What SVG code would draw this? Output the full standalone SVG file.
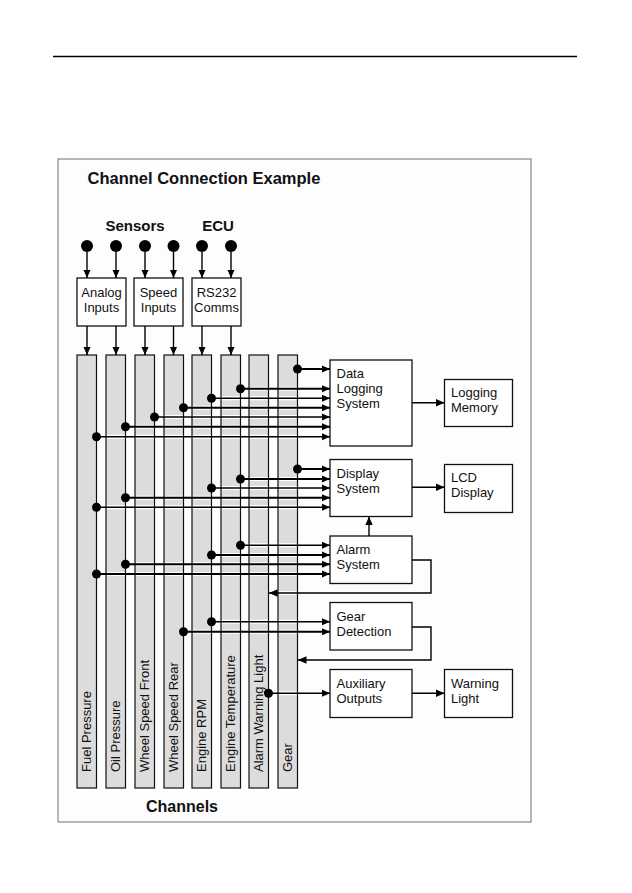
<svg xmlns="http://www.w3.org/2000/svg" width="632" height="893" viewBox="0 0 632 893">
<defs>
<marker id="ah" markerUnits="userSpaceOnUse" markerWidth="9" markerHeight="8" refX="8.5" refY="4" orient="auto">
<path d="M0,0.3 L8.5,4 L0,7.7 z" fill="#000"/>
</marker>
<style>
text{font-family:"Liberation Sans",Arial,sans-serif;fill:#111}
.t{font-size:13px}
.b{font-weight:bold}
.box{fill:#fff;stroke:#111;stroke-width:1.3}
.chf{fill:#dcdcdc;stroke:none}
.chs{fill:none;stroke:#111;stroke-width:1.2}
.halo{stroke:#fff;stroke-width:4;fill:none}
.ln{stroke:#000;stroke-width:1.4;fill:none}
.th{stroke-width:2}
.ar{marker-end:url(#ah)}
.dot{fill:#000}
</style>
</defs>
<rect width="632" height="893" fill="#fff"/>
<line x1="53" y1="56.5" x2="577" y2="56.5" stroke="#000" stroke-width="1.3"/>
<rect x="58" y="159" width="473" height="663" fill="#fdfdfd" stroke="#888" stroke-width="1.2"/>

<g id="labels">
<text class="b" x="87.5" y="184" style="font-size:16.5px">Channel Connection Example</text>
<text class="b" x="135" y="231" text-anchor="middle" style="font-size:15px">Sensors</text>
<text class="b" x="218" y="231" text-anchor="middle" style="font-size:15px">ECU</text>
<text class="b" x="182" y="812" text-anchor="middle" style="font-size:16px">Channels</text>
</g>

<g id="sensors">
<circle class="dot" cx="87" cy="246" r="6"/>
<circle class="dot" cx="116" cy="246" r="6"/>
<circle class="dot" cx="145" cy="246" r="6"/>
<circle class="dot" cx="173.5" cy="246" r="6"/>
<circle class="dot" cx="202" cy="246" r="6"/>
<circle class="dot" cx="231" cy="246" r="6"/>
</g>

<g id="analog-inputs">
<rect class="box" x="77" y="278" width="49" height="48"/>
<text class="t" x="101.5" y="297" text-anchor="middle">Analog</text>
<text class="t" x="101.5" y="312" text-anchor="middle">Inputs</text>
</g>
<g id="speed-inputs">
<rect class="box" x="134" y="278" width="49" height="48"/>
<text class="t" x="158.5" y="297" text-anchor="middle">Speed</text>
<text class="t" x="158.5" y="312" text-anchor="middle">Inputs</text>
</g>
<g id="rs232-comms">
<rect class="box" x="192" y="278" width="49" height="48"/>
<text class="t" x="216.5" y="297" text-anchor="middle">RS232</text>
<text class="t" x="216.5" y="312" text-anchor="middle">Comms</text>
</g>

<g id="channel-fills">
<rect class="chf" x="77" y="355" width="19.5" height="433"/>
<rect class="chf" x="106" y="355" width="19.5" height="433"/>
<rect class="chf" x="135" y="355" width="19.5" height="433"/>
<rect class="chf" x="164" y="355" width="19.5" height="433"/>
<rect class="chf" x="192" y="355" width="19.5" height="433"/>
<rect class="chf" x="221" y="355" width="19.5" height="433"/>
<rect class="chf" x="249" y="355" width="19.5" height="433"/>
<rect class="chf" x="278" y="355" width="19.5" height="433"/>
</g>

<g id="halos">
<path class="halo" d="M297.5,369H322 M240.5,388.7H322 M211.5,398.3H322 M183.5,407.7H322 M154.5,417H322 M125.5,426.7H322 M96.5,436.7H322 M297.5,469H322 M240.5,479H322 M211.5,488H322 M125.5,497.7H322 M96.5,507.3H322 M240.5,545.3H322 M211.5,555H322 M125.5,564.3H322 M96.5,574H322 M278,593H431 M211.5,621.7H322 M183.5,631.7H322 M306,660H431 M268.5,693.3H322"/>
</g>

<g id="ch-fuel-pressure">
<rect class="chs" x="77" y="355" width="19.5" height="433"/>
<text class="t" transform="translate(91.3,772) rotate(-90)">Fuel Pressure</text>
</g>
<g id="ch-oil-pressure">
<rect class="chs" x="106" y="355" width="19.5" height="433"/>
<text class="t" transform="translate(120.3,772) rotate(-90)">Oil Pressure</text>
</g>
<g id="ch-wheel-speed-front">
<rect class="chs" x="135" y="355" width="19.5" height="433"/>
<text class="t" transform="translate(149.3,772) rotate(-90)">Wheel Speed Front</text>
</g>
<g id="ch-wheel-speed-rear">
<rect class="chs" x="164" y="355" width="19.5" height="433"/>
<text class="t" transform="translate(178.3,772) rotate(-90)">Wheel Speed Rear</text>
</g>
<g id="ch-engine-rpm">
<rect class="chs" x="192" y="355" width="19.5" height="433"/>
<text class="t" transform="translate(206.3,772) rotate(-90)">Engine RPM</text>
</g>
<g id="ch-engine-temperature">
<rect class="chs" x="221" y="355" width="19.5" height="433"/>
<text class="t" transform="translate(235.3,772) rotate(-90)">Engine Temperature</text>
</g>
<g id="ch-alarm-warning-light">
<rect class="chs" x="249" y="355" width="19.5" height="433"/>
<text class="t" transform="translate(263.3,772) rotate(-90)">Alarm Warning Light</text>
</g>
<g id="ch-gear">
<rect class="chs" x="278" y="355" width="19.5" height="433"/>
<text class="t" transform="translate(292.3,772) rotate(-90)">Gear</text>
</g>

<g id="data-logging-system">
<rect class="box" x="330" y="360" width="82" height="86"/>
<text class="t" x="336.5" y="378">Data</text>
<text class="t" x="336.5" y="393">Logging</text>
<text class="t" x="336.5" y="408">System</text>
</g>
<g id="logging-memory">
<rect class="box" x="444.5" y="379.5" width="68" height="47"/>
<text class="t" x="451" y="397">Logging</text>
<text class="t" x="451" y="412">Memory</text>
</g>
<g id="display-system">
<rect class="box" x="330" y="459.5" width="82" height="57"/>
<text class="t" x="336.5" y="478">Display</text>
<text class="t" x="336.5" y="492.5">System</text>
</g>
<g id="lcd-display">
<rect class="box" x="444.5" y="464.5" width="68" height="48"/>
<text class="t" x="451" y="482">LCD</text>
<text class="t" x="451" y="497">Display</text>
</g>
<g id="alarm-system">
<rect class="box" x="330" y="536" width="82" height="47.5"/>
<text class="t" x="336.5" y="554">Alarm</text>
<text class="t" x="336.5" y="569">System</text>
</g>
<g id="gear-detection">
<rect class="box" x="330" y="602.5" width="82" height="47.5"/>
<text class="t" x="336.5" y="620.5">Gear</text>
<text class="t" x="336.5" y="635.5">Detection</text>
</g>
<g id="auxiliary-outputs">
<rect class="box" x="330" y="669.5" width="82" height="48"/>
<text class="t" x="336.5" y="688">Auxiliary</text>
<text class="t" x="336.5" y="702.5">Outputs</text>
</g>
<g id="warning-light">
<rect class="box" x="444.5" y="669.5" width="68" height="48"/>
<text class="t" x="451" y="688">Warning</text>
<text class="t" x="451" y="702.5">Light</text>
</g>

<g id="connectors">
<path class="ln ar" d="M87,252V278"/>
<path class="ln ar" d="M116,252V278"/>
<path class="ln ar" d="M145,252V278"/>
<path class="ln ar" d="M173.5,252V278"/>
<path class="ln ar" d="M202,252V278"/>
<path class="ln ar" d="M231,252V278"/>
<path class="ln ar" d="M87,326V355"/>
<path class="ln ar" d="M116,326V355"/>
<path class="ln ar" d="M145,326V355"/>
<path class="ln ar" d="M173.5,326V355"/>
<path class="ln ar" d="M202,326V355"/>
<path class="ln ar" d="M231,326V355"/>

<path class="ln th ar" d="M297.5,369H330"/>
<path class="ln th ar" d="M240.5,388.7H330"/>
<path class="ln ar" d="M211.5,398.3H330"/>
<path class="ln th ar" d="M183.5,407.7H330"/>
<path class="ln ar" d="M154.5,417H330"/>
<path class="ln th ar" d="M125.5,426.7H330"/>
<path class="ln ar" d="M96.5,436.7H330"/>

<path class="ln th ar" d="M297.5,469H330"/>
<path class="ln th ar" d="M240.5,479H330"/>
<path class="ln ar" d="M211.5,488H330"/>
<path class="ln th ar" d="M125.5,497.7H330"/>
<path class="ln ar" d="M96.5,507.3H330"/>

<path class="ln ar" d="M240.5,545.3H330"/>
<path class="ln th ar" d="M211.5,555H330"/>
<path class="ln th ar" d="M125.5,564.3H330"/>
<path class="ln th ar" d="M96.5,574H330"/>

<path class="ln ar" d="M211.5,621.7H330"/>
<path class="ln th ar" d="M183.5,631.7H330"/>

<path class="ln ar" d="M268.5,693.3H330"/>

<path class="ln ar" d="M412,402.7H444.5"/>
<path class="ln ar" d="M412,487.3H444.5"/>
<path class="ln ar" d="M412,693.3H444.5"/>
<path class="ln ar" d="M369,536V516.5"/>

<path class="ln ar" d="M412,560H431V593H269"/>
<path class="ln ar" d="M412,627H431V660H298"/>

<circle class="dot" cx="297.5" cy="369" r="4.5"/>
<circle class="dot" cx="240.5" cy="388.7" r="4.5"/>
<circle class="dot" cx="211.5" cy="398.3" r="4.5"/>
<circle class="dot" cx="183.5" cy="407.7" r="4.5"/>
<circle class="dot" cx="154.5" cy="417" r="4.5"/>
<circle class="dot" cx="125.5" cy="426.7" r="4.5"/>
<circle class="dot" cx="96.5" cy="436.7" r="4.5"/>
<circle class="dot" cx="297.5" cy="469" r="4.5"/>
<circle class="dot" cx="240.5" cy="479" r="4.5"/>
<circle class="dot" cx="211.5" cy="488" r="4.5"/>
<circle class="dot" cx="125.5" cy="497.7" r="4.5"/>
<circle class="dot" cx="96.5" cy="507.3" r="4.5"/>
<circle class="dot" cx="240.5" cy="545.3" r="4.5"/>
<circle class="dot" cx="211.5" cy="555" r="4.5"/>
<circle class="dot" cx="125.5" cy="564.3" r="4.5"/>
<circle class="dot" cx="96.5" cy="574" r="4.5"/>
<circle class="dot" cx="211.5" cy="621.7" r="4.5"/>
<circle class="dot" cx="183.5" cy="631.7" r="4.5"/>
<circle class="dot" cx="268.5" cy="693.3" r="4.5"/>
</g>
</svg>
